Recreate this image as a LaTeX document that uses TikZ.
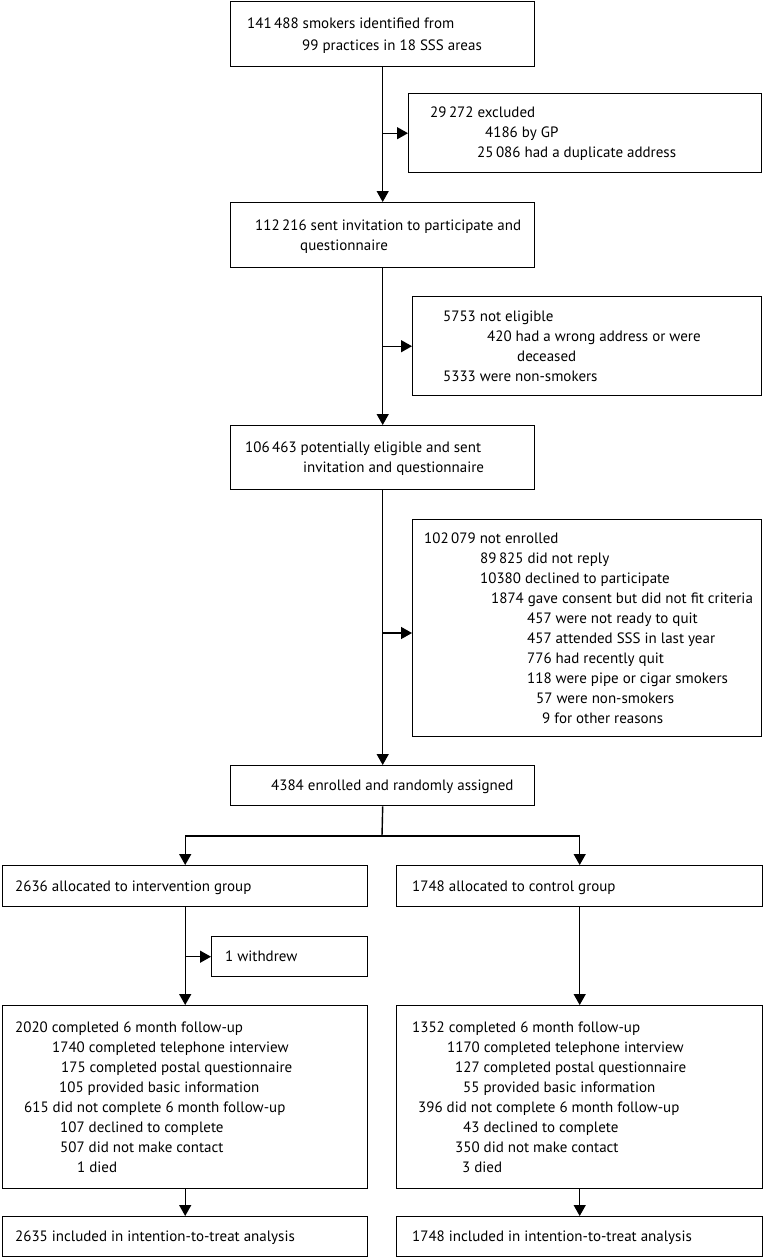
\documentclass[tikz,border=0pt]{standalone}
\usepackage{fontspec}
\setmainfont{PT Sans}
\usetikzlibrary{arrows.meta}
\tikzset{
  box/.style={draw, line width=1.4pt, inner sep=0pt, anchor=north west},
  conn/.style={line width=1.4pt},
  arr/.style={conn, -{Triangle[length=11pt,width=12pt]}},
  txt/.style={anchor=base west, inner sep=0pt, font=\fontsize{15}{17}\selectfont}
}
\begin{document}
\begin{tikzpicture}[x=1pt,y=-1pt]
\useasboundingbox[fill=white] (0,0) rectangle (763,1258);
% boxes
\node[box, minimum width=304pt, minimum height=65pt] (b1) at (230,1) {};
\node[box, minimum width=353pt, minimum height=79pt] (e1) at (408,93) {};
\node[box, minimum width=304pt, minimum height=65pt] (b3) at (230,202) {};
\node[box, minimum width=349pt, minimum height=99pt] (e2) at (412,296) {};
\node[box, minimum width=304pt, minimum height=64pt] (b5) at (230,425) {};
\node[box, minimum width=349pt, minimum height=217pt] (e3) at (412,519) {};
\node[box, minimum width=304pt, minimum height=40pt] (b7) at (230,765) {};
\node[box, minimum width=365pt, minimum height=41pt] (iv) at (2,865) {};
\node[box, minimum width=366pt, minimum height=41pt] (cg) at (396,865) {};
\node[box, minimum width=156pt, minimum height=40pt] (wd) at (211,936) {};
\node[box, minimum width=365pt, minimum height=183pt] (f1) at (2,1005) {};
\node[box, minimum width=366pt, minimum height=183pt] (f2) at (396,1005) {};
\node[box, minimum width=365pt, minimum height=40pt] (g1) at (2,1216) {};
\node[box, minimum width=366pt, minimum height=40pt] (g2) at (396,1216) {};
% texts
\node[txt] (t1a) at (247,28) {141\,488 smokers identified from};
\node[txt] (t1b) at (302,50) {99 practices in 18 SSS areas};
\node[txt] (e1a) at (430,117) {29\,272 excluded};
\node[txt] (e1b) at (485,137) {4186 by GP};
\node[txt] (e1c) at (477,157) {25\,086 had a duplicate address};
\node[txt] (t3a) at (255,230) {112\,216 sent invitation to participate and};
\node[txt] (t3b) at (300,250) {questionnaire};
\node[txt] (e2a) at (443,321) {5753 not eligible};
\node[txt] (e2b) at (487,341) {420 had a wrong address or were};
\node[txt] (e2c) at (517,361) {deceased};
\node[txt] (e2d) at (443,381) {5333 were non-smokers};
\node[txt] (t5a) at (245,452) {106\,463 potentially eligible and sent};
\node[txt] (t5b) at (303,472) {invitation and questionnaire};
\node[txt] (e3a) at (424,543) {102\,079 not enrolled};
\node[txt] (e3b) at (480,563) {89\,825 did not reply};
\node[txt] (e3c) at (480,583) {10380 declined to participate};
\node[txt] (e3d) at (491,603) {1874 gave consent but did not fit criteria};
\node[txt] (e3e) at (527,623) {457 were not ready to quit};
\node[txt] (e3f) at (527,643) {457 attended SSS in last year};
\node[txt] (e3g) at (527,663) {776 had recently quit};
\node[txt] (e3h) at (527,683) {118 were pipe or cigar smokers};
\node[txt] (e3i) at (536,703) {57 were non-smokers};
\node[txt] (e3j) at (542,723) {9 for other reasons};
\node[txt] (t7) at (271,790) {4384 enrolled and randomly assigned};
\node[txt] (ti) at (15,891) {2636 allocated to intervention group};
\node[txt] (tc) at (412,891) {1748 allocated to control group};
\node[txt] (tw) at (225,961) {1 withdrew};
\node[txt] (f1a) at (15,1032) {2020 completed 6 month follow-up};
\node[txt] (f1b) at (52,1052) {1740 completed telephone interview};
\node[txt] (f1c) at (61,1072) {175 completed postal questionnaire};
\node[txt] (f1d) at (59,1092) {105 provided basic information};
\node[txt] (f1e) at (24,1112) {615 did not complete 6 month follow-up};
\node[txt] (f1f) at (60,1132) {107 declined to complete};
\node[txt] (f1g) at (60,1152) {507 did not make contact};
\node[txt] (f1h) at (77,1172) {1 died};
\node[txt] (f2a) at (412,1032) {1352 completed 6 month follow-up};
\node[txt] (f2b) at (447,1052) {1170 completed telephone interview};
\node[txt] (f2c) at (455,1072) {127 completed postal questionnaire};
\node[txt] (f2d) at (463,1092) {55 provided basic information};
\node[txt] (f2e) at (418,1112) {396 did not complete 6 month follow-up};
\node[txt] (f2f) at (463,1132) {43 declined to complete};
\node[txt] (f2g) at (455,1152) {350 did not make contact};
\node[txt] (f2h) at (462,1172) {3 died};
\node[txt] (tg1) at (15,1241) {2635 included in intention-to-treat analysis};
\node[txt] (tg2) at (412,1241) {1748 included in intention-to-treat analysis};
% connectors
\draw[arr] (b1) -- (b3);
\draw[arr] (b1.south |- e1.west) -- (e1.west);
\draw[arr] (b3) -- (b5);
\draw[arr] (b3.south |- e2.west) -- (e2.west);
\draw[arr] (b5) -- (b7);
\coordinate (a3) at (382,633);
\draw[arr] (a3) -- (a3 -| e3.west);
\coordinate (split) at (382,836);
\draw[conn] (b7.south) -- (split);
\draw[arr] (split) -| (iv.north);
\draw[arr] (split) -| (cg.north);
\draw[arr] (iv) -- (f1);
\draw[arr] (iv.south |- wd.west) -- (wd.west);
\draw[arr] (cg) -- (f2);
\draw[arr] (f1) -- (g1);
\draw[arr] (f2) -- (g2);
\end{tikzpicture}
\end{document}
